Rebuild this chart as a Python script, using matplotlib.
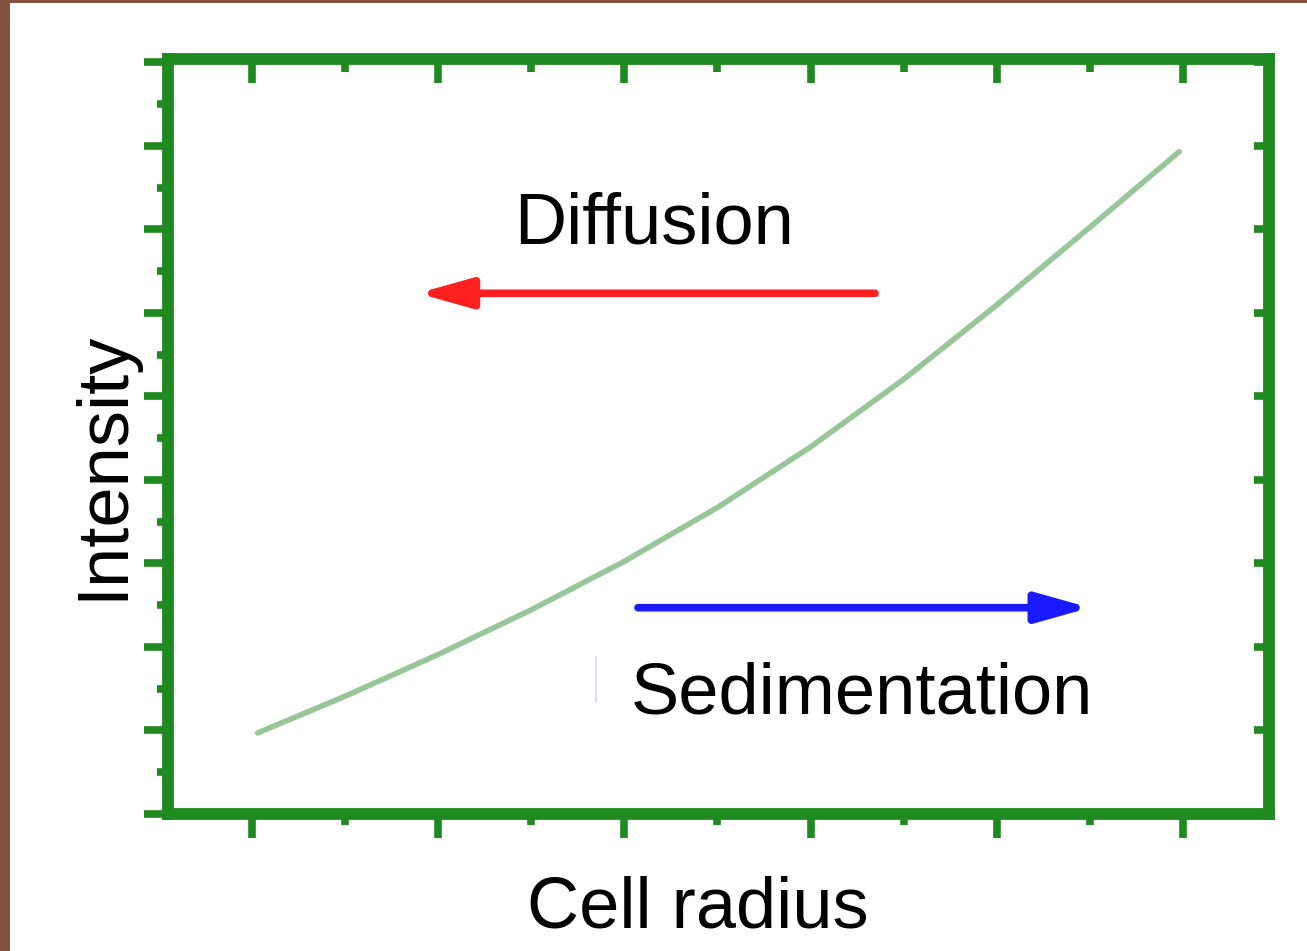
import matplotlib
matplotlib.use("Agg")
import matplotlib.pyplot as plt
from matplotlib.patches import Rectangle
from matplotlib.lines import Line2D
from matplotlib.ticker import MultipleLocator, NullLocator

# ---- data ----
radius = [0.03, 0.5, 1.0, 1.5, 2.0, 2.5, 3.0, 3.5, 4.0, 4.5, 4.98]
intensity = [0.97, 1.41, 1.91, 2.445, 3.025, 3.67, 4.395, 5.205, 6.095, 7.025, 7.93]

x_label = "Cell radius"
y_label = "Intensity"
diffusion_label = "Diffusion"
sedimentation_label = "Sedimentation"

# arrows: (tail x, tip x, y) in data units
diffusion_arrow = (3.346, 0.891, 6.235)
sedimentation_arrow = (2.073, 4.50, 2.47)

# ---- styling ----
W, H = 1307, 951
GREEN = "#1f8a1f"
BROWN = "#855240"

plt.rcParams["font.family"] = ["Liberation Sans", "DejaVu Sans"]

fig = plt.figure(figsize=(W / 100, H / 100), dpi=100, facecolor=BROWN)
panel = Rectangle((10 / W, 0), 1 - 10 / W, 1 - 3 / H,
                  transform=fig.transFigure, facecolor="white",
                  edgecolor="none", zorder=-10)
fig.add_artist(panel)

left, right, top, bottom = 168, 1269, 59, 814
ax = fig.add_axes([left / W, (H - bottom) / H, (right - left) / W, (bottom - top) / H])
ax.set_zorder(1)
ax.set_facecolor("white")
ax.set_xlim(-0.451, 5.462)
ax.set_ylim(0, 9.04)

for sp in ax.spines.values():
    sp.set_color(GREEN)
    sp.set_linewidth(8.5)

ax.xaxis.set_major_locator(MultipleLocator(1))
ax.xaxis.set_minor_locator(MultipleLocator(0.5))
ax.yaxis.set_major_locator(MultipleLocator(1))
ax.yaxis.set_minor_locator(MultipleLocator(0.5))
ax.tick_params(axis="both", which="major", direction="out", length=17, width=5.5,
               color=GREEN, labelbottom=False, labelleft=False)
ax.tick_params(axis="both", which="minor", direction="out", length=8, width=5.5,
               color=GREEN)

secx = ax.secondary_xaxis("top")
secx.xaxis.set_major_locator(MultipleLocator(1))
secx.xaxis.set_minor_locator(MultipleLocator(0.5))
secx.tick_params(axis="x", which="major", direction="in", length=17, width=5.5,
                 color=GREEN, labeltop=False)
secx.tick_params(axis="x", which="minor", direction="in", length=9, width=5.5,
                 color=GREEN)
for sp in secx.spines.values():
    sp.set_visible(False)

secy = ax.secondary_yaxis("right")
secy.yaxis.set_major_locator(MultipleLocator(1))
secy.yaxis.set_minor_locator(NullLocator())
secy.tick_params(axis="y", which="major", direction="in", length=11, width=5.5,
                 color=GREEN, labelright=False)
for sp in secy.spines.values():
    sp.set_visible(False)

# curve
ax.plot(radius, intensity, color="#99c699", lw=4.0, solid_capstyle="round",
        solid_joinstyle="round", zorder=2)

# arrows
for (tail, tip, y), col in ((diffusion_arrow, "#ff2020"), (sedimentation_arrow, "#1a1aff")):
    ax.annotate("", xy=(tip, y), xytext=(tail, y),
                arrowprops=dict(arrowstyle="-|>,head_length=1.6,head_width=0.45",
                                mutation_scale=20, lw=5.5, color=col,
                                shrinkA=0, shrinkB=0), zorder=3)

# texts
fig.text(654 / W, 1 - 243 / H, diffusion_label,
         ha="center", va="baseline", fontsize=52, color="black", zorder=5)
fig.text(861.5 / W, 1 - 713 / H, sedimentation_label,
         ha="center", va="baseline", fontsize=52, color="black", zorder=5)

ax.set_xlabel(x_label, fontsize=52, va="baseline", ha="center")
ax.xaxis.set_label_coords((698 - left) / (right - left), (bottom - 927) / (bottom - top))
ax.set_ylabel(y_label, fontsize=52, va="baseline", ha="center", rotation=90,
              rotation_mode="anchor")
ax.yaxis.set_label_coords((122 - left) / (right - left), (bottom - 465) / (bottom - top))

# faint scan artifact near the Sedimentation label
fig.add_artist(Line2D([596 / W, 596 / W], [1 - 657 / H, 1 - 702 / H],
                      transform=fig.transFigure, color="#dcdcff", lw=1.5, zorder=5))

fig.savefig("out.png", dpi=100, facecolor=BROWN)
